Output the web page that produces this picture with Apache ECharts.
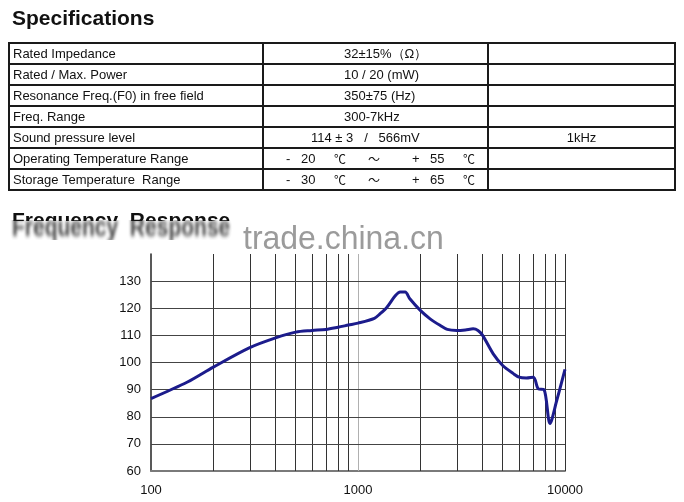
<!DOCTYPE html>
<html>
<head>
<meta charset="utf-8">
<script src="https://cdn.jsdelivr.net/npm/echarts@6/dist/echarts.min.js"></script>
<style>
  body { margin: 0; background: #fff; font-family: 'Liberation Sans', Arial, sans-serif; }
  #wrap { position: relative; width: 684px; height: 502px; overflow: hidden; }
  #main { position: absolute; left: 0; top: 0; width: 684px; height: 502px; }
  .title { position: absolute; font-weight: bold; font-size: 21px; line-height: 21px; color: #111; white-space: pre; }
  #spec { position: absolute; left: 8px; top: 42px; width: 666px; border-collapse: collapse; table-layout: fixed; font-size: 13px; color: #111; }
  #spec td { border: 2px solid #1a1a1a; height: 19px; padding: 0 0 0 3px; white-space: pre; position: relative; line-height: 19px; }
  .abs { position: absolute; top: 0; }
  .cjk { font-family: 'Noto Sans CJK SC', sans-serif; font-size: 12px; }
  #smearClip { position: absolute; left: 0; top: 220px; width: 260px; height: 20px; overflow: hidden; }
  #smear { position: absolute; left: 12px; top: -8px; color: #333; filter: blur(1.6px); transform: scaleY(1.35); transform-origin: top; opacity: 0.9; }
  #clip { position: absolute; left: 0; top: 209px; width: 260px; height: 12px; overflow: hidden; }
  #wm { position: absolute; left: 243px; top: 220px; font-size: 34px; line-height: 34px; color: #9b9b9b; transform: scaleX(0.94); transform-origin: left; }
</style>
</head>
<body>
<div id="wrap">
  <div id="main"></div>
  <div class="title" style="left:12px; top:7px;">Specifications</div>
  <table id="spec">
    <colgroup><col style="width:254px"><col style="width:225px"><col style="width:187px"></colgroup>
    <tbody id="specBody"></tbody>
  </table>
  <div id="smearClip"><div class="title" id="smear">Frequency  Response</div></div>
  <div id="clip"><div class="title" style="left:12px; top:0;">Frequency  Response</div></div>
  <div id="wm">trade.china.cn</div>
</div>
<script>
// spec table
var specNames = ['Rated Impedance', 'Rated / Max. Power', 'Resonance Freq.(F0) in free field', 'Freq. Range',
  'Sound pressure level', 'Operating Temperature Range', 'Storage Temperature  Range'];
var specValues = ['32±15%（Ω）', '10 / 20 (mW)', '350±75 (Hz)', '300-7kHz', '114 ± 3   /   566mV'];
var specNotes = ['', '', '', '', '1kHz', '', ''];
var tempLow = ['20', '30'];
var tempHigh = ['55', '65'];

// frequency response (Hz, dB)
var freq = [100, 150, 200, 300, 400, 500, 600, 700, 800, 900, 1000, 1200, 1280, 1380, 1510, 1600, 1690, 1780,
  2000, 2230, 2490, 2700, 3000, 3300, 3600, 3800, 4000, 4500, 5000, 5630, 6000, 6500, 7040, 7430, 7920, 8460, 9120, 10000];
var spl = [86.7, 92.8, 98.3, 105.5, 109.1, 111.2, 111.8, 112.2, 113.0, 113.8, 114.5, 116.3, 118.0, 120.4, 124.5, 126.0, 126.0, 123.5,
  119.2, 116.1, 113.7, 112.2, 111.8, 112.0, 112.4, 111.8, 110.0, 103.2, 98.9, 95.9, 94.6, 94.3, 94.6, 90.3, 90.0, 77.5, 86.0, 97.5];
var gridFreq = [200, 300, 400, 500, 600, 700, 800, 900, 1000, 2000, 3000, 4000, 5000, 6000, 7000, 8000, 9000, 10000];
var gridSpl = [70, 80, 90, 100, 110, 120, 130];

var body = document.getElementById('specBody');
for (var i = 0; i < specNames.length; i++) {
  var tr = document.createElement('tr');
  var c1 = document.createElement('td');
  c1.textContent = specNames[i];
  var c2 = document.createElement('td');
  if (i < 4) {
    c2.style.paddingLeft = '80px';
    c2.textContent = specValues[i];
  } else if (i === 4) {
    c2.style.paddingLeft = '47px';
    c2.textContent = specValues[i];
  } else {
    var k = i - 5;
    var parts = [['-', 22, ''], [tempLow[k], 37, ''], ['℃', 70, 'cjk'], ['～', 104, 'cjk'], ['+', 148, ''], [tempHigh[k], 166, ''], ['℃', 199, 'cjk']];
    parts.forEach(function (p) {
      var s = document.createElement('span');
      s.className = 'abs ' + p[2];
      s.style.left = p[1] + 'px';
      s.textContent = p[0];
      c2.appendChild(s);
    });
  }
  var c3 = document.createElement('td');
  c3.style.textAlign = 'center';
  c3.style.padding = '0';
  c3.textContent = specNotes[i];
  tr.appendChild(c1); tr.appendChild(c2); tr.appendChild(c3);
  body.appendChild(tr);
}

var myChart = echarts.init(document.getElementById('main'));
var option = {
  animation: false,
  grid: { left: 151, right: 119, top: 254, bottom: 31 },
  xAxis: {
    type: 'log',
    logBase: 10,
    min: 100,
    max: 10000,
    axisLine: { lineStyle: { color: '#7a7a7a', width: 2 } },
    axisTick: { show: false },
    splitLine: { show: false },
    axisLabel: {
      color: '#111', fontSize: 13, fontFamily: 'Liberation Sans', margin: 13,
      formatter: function (v) { return String(Math.round(v)); }
    }
  },
  yAxis: {
    type: 'value',
    min: 60,
    max: 140,
    interval: 10,
    axisLine: { show: true, lineStyle: { color: '#222', width: 1.5 } },
    axisTick: { show: false },
    splitLine: { show: false },
    axisLabel: {
      color: '#111', fontSize: 13, fontFamily: 'Liberation Sans', margin: 10,
      formatter: function (v) { return v > 130 ? '' : v; }
    }
  },
  series: [
    {
      type: 'line',
      data: [],
      silent: true,
      markLine: {
        silent: true,
        symbol: ['none', 'none'],
        label: { show: false },
        lineStyle: { type: 'solid', color: '#333', width: 1 },
        data: gridFreq.map(function (f) {
          return f === 1000 ? { xAxis: f, lineStyle: { color: '#b0b0b0' } } : { xAxis: f };
        }).concat(gridSpl.map(function (v) {
          return { yAxis: v, lineStyle: { color: '#444' } };
        }))
      }
    },
    {
      name: 'SPL',
      type: 'line',
      data: freq.map(function (f, i) { return [f, spl[i]]; }),
      showSymbol: false,
      smooth: 0.3,
      z: 5,
      lineStyle: { color: '#1c1c8c', width: 3 }
    }
  ]
};
myChart.setOption(option);
</script>
</body>
</html>
